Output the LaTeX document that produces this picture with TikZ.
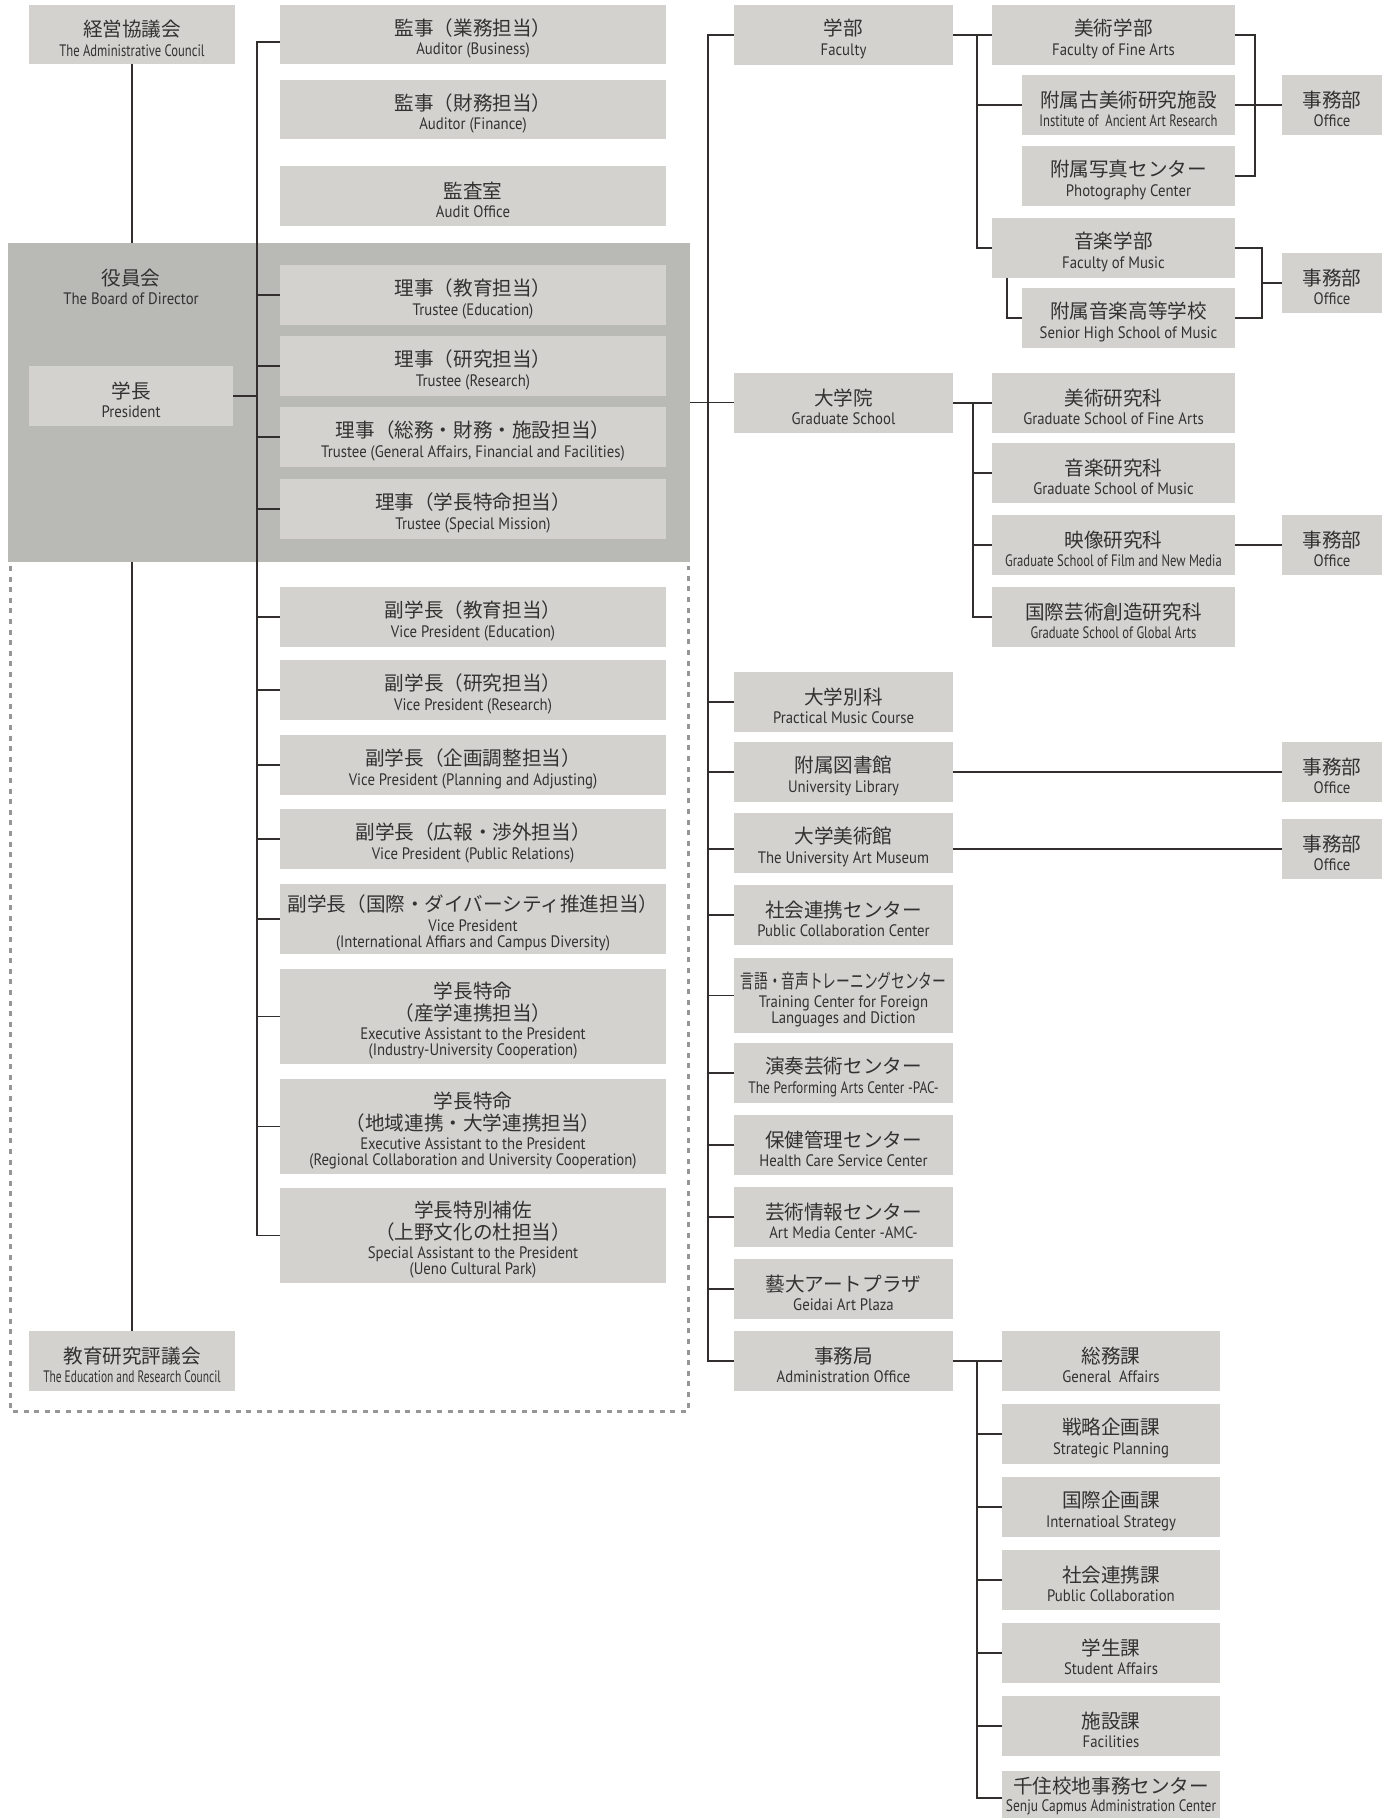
\documentclass[tikz,border=0pt]{standalone}
\usepackage{fontspec}
\setmainfont{PT Sans}
\newfontfamily\en[FakeStretch=0.89]{PT Sans}
\newfontfamily\enA[FakeStretch=0.69]{PT Sans}
\newfontfamily\enB[FakeStretch=0.76]{PT Sans}
\newfontfamily\enC[FakeStretch=0.81]{PT Sans}
\newfontfamily\cjk{Noto Sans CJK JP}
\newfontfamily\cjkn[FakeStretch=0.7]{Noto Sans CJK JP}
\usetikzlibrary{calc}
\definecolor{boxc}{RGB}{211,210,206}
\definecolor{regc}{RGB}{185,186,181}
\definecolor{linec}{RGB}{50,46,46}
\definecolor{textc}{RGB}{50,50,50}
\definecolor{dashc}{RGB}{150,150,150}
\newcommand\J[1]{{\cjk\fontsize{9.8pt}{8pt}\selectfont #1}}
\newcommand\JN[1]{{\cjkn\fontsize{9.8pt}{8pt}\selectfont #1}}
\newcommand\ENA[1]{{\enA #1}}
\newcommand\ENB[1]{{\enB #1}}
\newcommand\ENC[1]{{\enC #1}}
\newcommand\mkbox[7][4]{%
  \pgfmathsetmacro\bcx{(#3+#5)/2}%
  \pgfmathsetmacro\bcy{(#4+#6)/2}%
  \pgfmathsetmacro\bw{(#5-#3)*0.5}%
  \pgfmathsetmacro\bh{(#6-#4)*0.5}%
  \pgfmathsetmacro\tcy{\bcy+#1}%
  \node[bx, minimum width=\bw pt, minimum height=\bh pt] (#2) at (\bcx,\bcy) {};
  \node[lbl] (#2-t) at (\bcx,\tcy) {#7};}
\begin{document}
\begin{tikzpicture}[x=0.5pt,y=-0.5pt,
  bx/.style={fill=boxc, inner sep=0pt},
  conn/.style={draw=linec, line width=0.6pt},
  lbl/.style={inner sep=0pt, align=center, text=textc, font=\en\fontsize{8.3pt}{8pt}\selectfont}]
\useasboundingbox (0,0) rectangle (1391,1818);
\clip (0,0) rectangle (1391,1818);
\fill[white] (0,0) rectangle (1391,1818);
% board region
\node[fill=regc, inner sep=0pt, minimum width=341pt, minimum height=159.5pt] (board) at (349,402.5) {};
\draw[dashc, line width=1.5pt, dash pattern=on 2.5pt off 2.8pt] (10,566) -- (10,1411) -- (688,1411) -- (688,566);
\node[lbl] (boardt) at (131,287) {\J{役員会}\\[1.7pt]The Board of Director};
% left column
\mkbox{keiei}{29}{5}{235}{64}{\J{経営協議会}\\[1.7pt]\ENB{The Administrative Council}}
\mkbox{pres}{29}{366}{233}{426}{\J{学長}\\[1.7pt]President}
\mkbox{erc}{29}{1331}{235}{1391}{\J{教育研究評議会}\\[1.7pt]\ENA{The Education and Research Council}}
% middle column
\mkbox{aud1}{280}{5}{666}{64}{\J{監事（業務担当）}\\[1.7pt]Auditor (Business)}
\mkbox{aud2}{280}{80}{666}{139}{\J{監事（財務担当）}\\[1.7pt]Auditor (Finance)}
\mkbox{aoff}{280}{166}{666}{226}{\J{監査室}\\[1.7pt]Audit Office}
\mkbox{tr1}{280}{265}{666}{325}{\J{理事（教育担当）}\\[1.7pt]Trustee (Education)}
\mkbox{tr2}{280}{336}{666}{396}{\J{理事（研究担当）}\\[1.7pt]Trustee (Research)}
\mkbox{tr3}{280}{407}{666}{467}{\J{理事（総務・財務・施設担当）}\\[1.7pt]Trustee (General Affairs, Financial and Facilities)}
\mkbox{tr4}{280}{479}{666}{539}{\J{理事（学長特命担当）}\\[1.7pt]Trustee (Special Mission)}
\mkbox{vp1}{280}{587}{666}{647}{\J{副学長（教育担当）}\\[1.7pt]Vice President (Education)}
\mkbox{vp2}{280}{660}{666}{720}{\J{副学長（研究担当）}\\[1.7pt]Vice President (Research)}
\mkbox{vp3}{280}{735}{666}{795}{\J{副学長（企画調整担当）}\\[1.7pt]Vice President (Planning and Adjusting)}
\mkbox{vp4}{280}{809}{666}{869}{\J{副学長（広報・渉外担当）}\\[1.7pt]Vice President (Public Relations)}
\mkbox{vp5}{280}{884}{666}{954}{\J{副学長（国際・ダイバーシティ推進担当）}\\[1.7pt]Vice President\\(International Affiars and Campus Diversity)}
\mkbox{ea1}{280}{969}{666}{1064}{\J{学長特命}\\[1pt]\J{（産学連携担当）}\\[1.7pt]Executive Assistant to the President\\(Industry-University Cooperation)}
\mkbox{ea2}{280}{1079}{666}{1174}{\J{学長特命}\\[1pt]\J{（地域連携・大学連携担当）}\\[1.7pt]Executive Assistant to the President\\(Regional Collaboration and University Cooperation)}
\mkbox{spa}{280}{1188}{666}{1283}{\J{学長特別補佐}\\[1pt]\J{（上野文化の杜担当）}\\[1.7pt]Special Assistant to the President\\(Ueno Cultural Park)}
% right main column
\mkbox{fac}{734}{5}{953}{65}{\J{学部}\\[1.7pt]Faculty}
\mkbox{gs}{734}{373}{953}{433}{\J{大学院}\\[1.7pt]Graduate School}
\mkbox{pmc}{734}{672}{953}{732}{\J{大学別科}\\[1.7pt]Practical Music Course}
\mkbox{lib}{734}{742}{953}{802}{\J{附属図書館}\\[1.7pt]University Library}
\mkbox{mus}{734}{813}{953}{873}{\J{大学美術館}\\[1.7pt]The University Art Museum}
\mkbox{pcc}{734}{885}{953}{945}{\J{社会連携センター}\\[1.7pt]Public Collaboration Center}
\mkbox{tcf}{734}{958}{953}{1033}{\JN{言語・音声トレーニングセンター}\\[1.7pt]Training Center for Foreign\\Languages and Diction}
\mkbox{pac}{734}{1043}{953}{1103}{\J{演奏芸術センター}\\[1.7pt]\ENC{The Performing Arts Center -PAC-}}
\mkbox{hcs}{734}{1115}{953}{1175}{\J{保健管理センター}\\[1.7pt]Health Care Service Center}
\mkbox{amc}{734}{1187}{953}{1247}{\J{芸術情報センター}\\[1.7pt]Art Media Center -AMC-}
\mkbox{gap}{734}{1259}{953}{1319}{\J{藝大アートプラザ}\\[1.7pt]Geidai Art Plaza}
\mkbox{adm}{734}{1331}{953}{1391}{\J{事務局}\\[1.7pt]Administration Office}
% faculty sub
\mkbox{ffa}{992}{5}{1235}{65}{\J{美術学部}\\[1.7pt]Faculty of Fine Arts}
\mkbox{iaar}{1022}{75}{1235}{135}{\J{附属古美術研究施設}\\[1.7pt]\ENB{Institute of \ Ancient Art Research}}
\mkbox{pc}{1022}{146}{1235}{206}{\J{附属写真センター}\\[1.7pt]Photography Center}
\mkbox{fm}{992}{218}{1235}{278}{\J{音楽学部}\\[1.7pt]Faculty of Music}
\mkbox{shs}{1022}{288}{1235}{348}{\J{附属音楽高等学校}\\[1.7pt]Senior High School of Music}
% graduate sub
\mkbox{gfa}{992}{373}{1235}{433}{\J{美術研究科}\\[1.7pt]Graduate School of Fine Arts}
\mkbox{gmu}{992}{443}{1235}{503}{\J{音楽研究科}\\[1.7pt]Graduate School of Music}
\mkbox{gfn}{992}{515}{1235}{575}{\J{映像研究科}\\[1.7pt]\ENB{Graduate School of Film and New Media}}
\mkbox{gga}{992}{587}{1235}{647}{\J{国際芸術創造研究科}\\[1.7pt]\ENB{Graduate School of Global Arts}}
% offices
\mkbox{off1}{1282}{75}{1382}{135}{\J{事務部}\\[1.7pt]Office}
\mkbox{off2}{1282}{253}{1382}{313}{\J{事務部}\\[1.7pt]Office}
\mkbox{off3}{1282}{515}{1382}{575}{\J{事務部}\\[1.7pt]Office}
\mkbox{off4}{1282}{742}{1382}{802}{\J{事務部}\\[1.7pt]Office}
\mkbox{off5}{1282}{819}{1382}{879}{\J{事務部}\\[1.7pt]Office}
% admin sub
\mkbox{ga}{1002}{1331}{1220}{1391}{\J{総務課}\\[1.7pt]General \ Affairs}
\mkbox{sp}{1002}{1404}{1220}{1464}{\J{戦略企画課}\\[1.7pt]Strategic Planning}
\mkbox{is}{1002}{1477}{1220}{1537}{\J{国際企画課}\\[1.7pt]Internatioal Strategy}
\mkbox{pcol}{1002}{1550}{1220}{1610}{\J{社会連携課}\\[1.7pt]Public Collaboration}
\mkbox{sa}{1002}{1623}{1220}{1683}{\J{学生課}\\[1.7pt]Student Affairs}
\mkbox{fcl}{1002}{1696}{1220}{1756}{\J{施設課}\\[1.7pt]Facilities}
\mkbox[-2]{sen}{1002}{1771}{1220}{1825}{\J{千住校地事務センター}\\[1.2pt]\ENC{Senju Capmus Administration Center}}
% ---- connectors: left
\coordinate (tl) at (257,42);
\draw[conn] (aud1.west |- tl) -- (tl) -- (tl |- spa.west);
\foreach \n in {tr1,tr2,tr3,tr4,vp1,vp2,vp3,vp4,vp5,ea1,ea2,spa} \draw[conn] (tl |- \n.west) -- (\n.west);
\draw[conn] (pres.east) -- (tl |- pres.east);
\draw[conn] (keiei.south) -- (keiei.south |- board.north);
\draw[conn] (board.south -| erc.north) -- (erc.north);
% ---- right trunk
\coordinate (tr) at (708,0);
\draw[conn] (fac.west) -- (tr |- fac.west) -- (tr |- adm.west) -- (adm.west);
\foreach \n in {pmc,lib,pcc,tcf,pac,hcs,amc,gap} \draw[conn] (tr |- \n.west) -- (\n.west);
\draw[conn] (tr |- off5.west) -- (mus.west |- off5.west);
\draw[conn] (board.east) -- (board.east -| gs.west);
% faculty
\coordinate (fb) at (977,0);
\draw[conn] (fac.east) -- (ffa.west);
\draw[conn] (fb |- ffa.west) -- (fb |- fm.west) -- (fm.west);
\draw[conn] (fb |- iaar.west) -- (iaar.west);
\coordinate (sb) at (1007,0);
\draw[conn] (sb |- fm.south) -- (sb |- shs.west) -- (shs.west);
\coordinate (b1) at (1255,0);
\draw[conn] (ffa.east) -- (b1 |- ffa.east) -- (b1 |- pc.east) -- (pc.east);
\draw[conn] (iaar.east) -- (off1.west);
\coordinate (b2) at (1262,0);
\draw[conn] (fm.east) -- (b2 |- fm.east) -- (b2 |- shs.east) -- (shs.east);
\draw[conn] (b2 |- off2.west) -- (off2.west);
% graduate
\coordinate (gb) at (973,0);
\draw[conn] (gs.east) -- (gfa.west);
\draw[conn] (gb |- gfa.west) -- (gb |- gga.west) -- (gga.west);
\draw[conn] (gb |- gmu.west) -- (gmu.west);
\draw[conn] (gb |- gfn.west) -- (gfn.west);
\draw[conn] (gfn.east) -- (off3.west);
\draw[conn] (lib.east) -- (off4.west);
\draw[conn] (mus.east |- off5.west) -- (off5.west);
% admin
\coordinate (ab) at (977,0);
\draw[conn] (adm.east) -- (ga.west);
\draw[conn] (ab |- ga.west) -- (ab |- sen.west) -- (sen.west);
\foreach \n in {sp,is,pcol,sa,fcl} \draw[conn] (ab |- \n.west) -- (\n.west);
\end{tikzpicture}
\end{document}
